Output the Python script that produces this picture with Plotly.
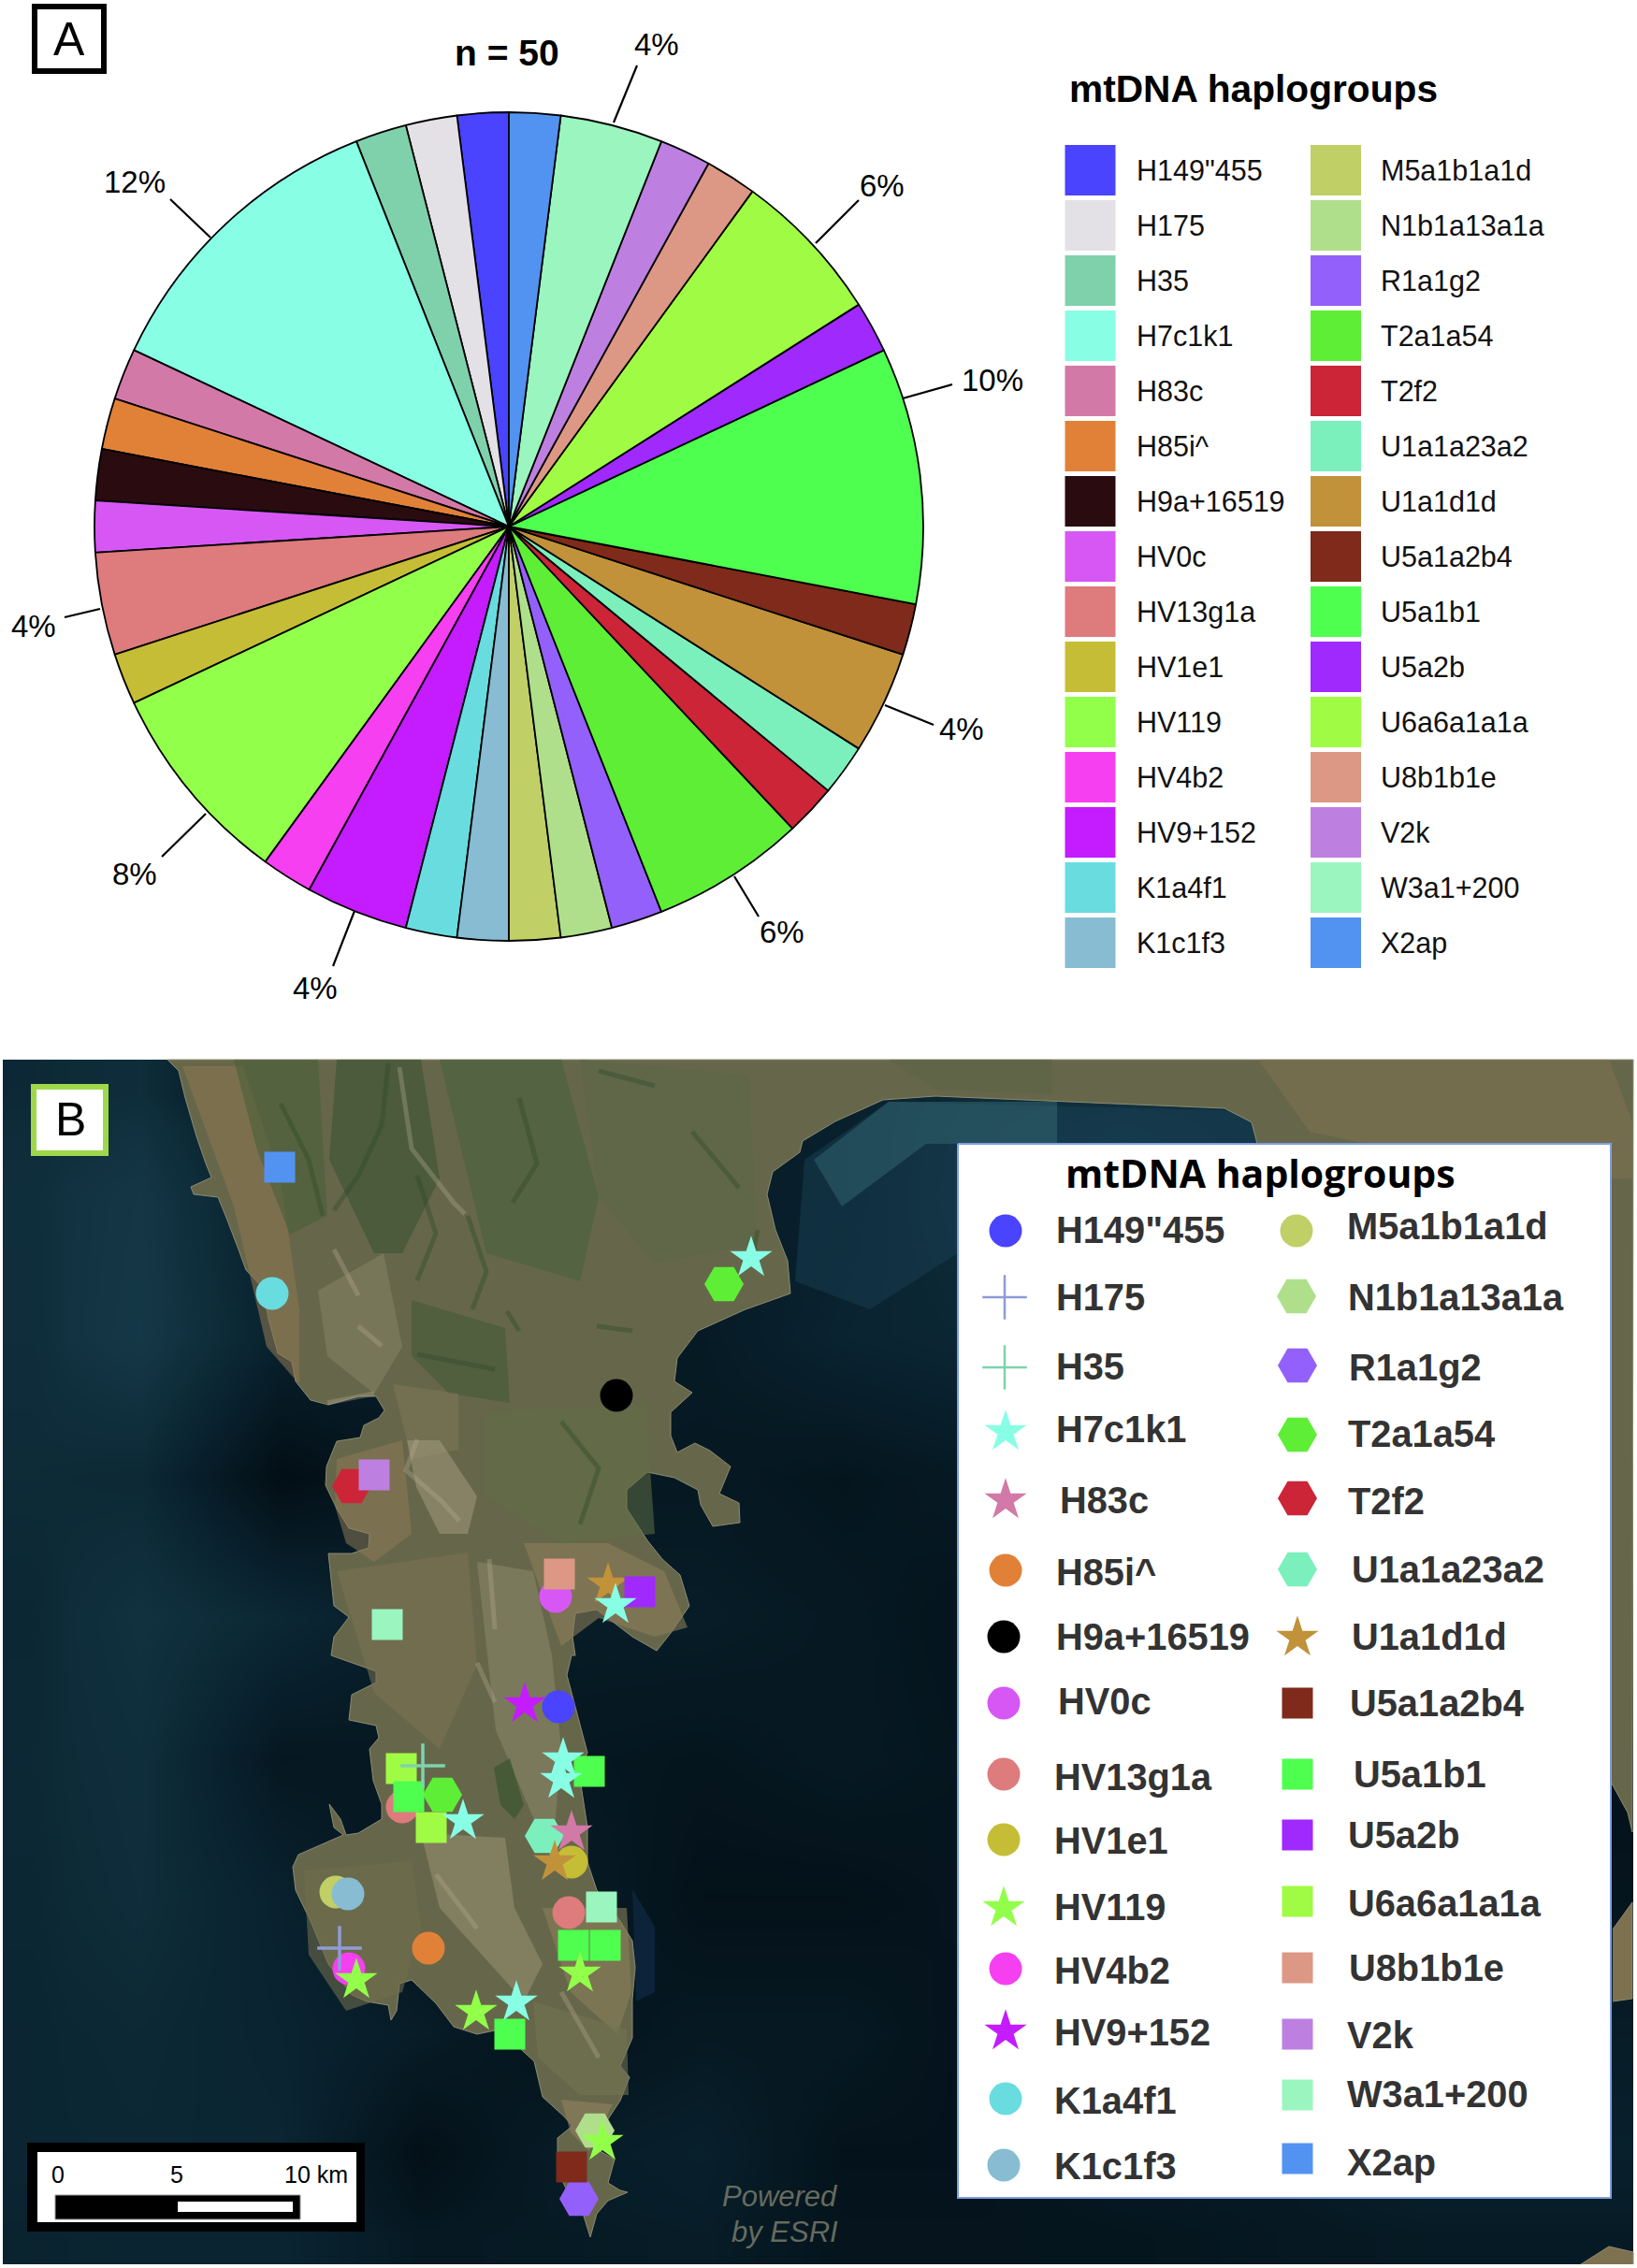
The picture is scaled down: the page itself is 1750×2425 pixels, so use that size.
import plotly.graph_objects as go

W, H = 1750, 2425

# ---------- haplogroup data ----------
haplogroups = ['H149"455', 'H175', 'H35', 'H7c1k1', 'H83c', 'H85i^', 'H9a+16519', 'HV0c', 'HV13g1a', 'HV1e1',
               'HV119', 'HV4b2', 'HV9+152', 'K1a4f1', 'K1c1f3', 'M5a1b1a1d', 'N1b1a13a1a', 'R1a1g2', 'T2a1a54',
               'T2f2', 'U1a1a23a2', 'U1a1d1d', 'U5a1a2b4', 'U5a1b1', 'U5a2b', 'U6a6a1a1a', 'U8b1b1e', 'V2k',
               'W3a1+200', 'X2ap']
percent = [2, 2, 2, 12, 2, 2, 2, 2, 4, 2, 8, 2, 4, 2, 2, 2, 2, 2, 6, 2, 2, 4, 2, 10, 2, 6, 2, 2, 4, 2]
colors = ['#4a43ff', '#e3e1e5', '#7fd1ac', '#88ffe5', '#d379a7', '#e18138', '#2a0b10', '#d757f5', '#dd7b7d', '#c6bd36',
          '#92ff4a', '#f53ff0', '#c41bff', '#69dce0', '#87bcd3', '#c0cf66', '#b0df8c', '#9460fb', '#5eee36',
          '#cb2537', '#7bf0bd', '#c1923a', '#7f2a1a', '#4eff4f', '#a029fd', '#a0fb44', '#dd9785', '#bd80e0',
          '#9bf5bf', '#5293f1']
symbols = ['circle', 'cross-thin', 'cross-thin', 'star', 'star', 'circle', 'circle', 'circle', 'circle', 'circle',
           'star', 'circle', 'star', 'circle', 'circle', 'circle', 'hexagon2', 'hexagon2', 'hexagon2', 'hexagon2',
           'hexagon2', 'star', 'square', 'square', 'square', 'square', 'square', 'square', 'square', 'square']
map_colors = dict(zip(haplogroups, colors))
map_colors['H175'] = '#8f9bd6'
map_colors['H35'] = '#7ed4ac'
map_colors['H9a+16519'] = '#000000'

# pie percentage labels: text, leader start/end, label centre
pie_label_text = ['4%', '6%', '10%', '4%', '6%', '4%', '8%', '4%', '12%']
leader_x0 = [656, 872, 965, 946, 785, 379, 220, 107, 225]
leader_y0 = [131, 260, 426, 754, 937, 974, 870, 651, 254]
leader_x1 = [681, 918, 1018, 998, 811, 356, 173, 69, 182]
leader_y1 = [70, 214, 411, 775, 980, 1033, 916, 660, 213]
label_x = [702, 943, 1061, 1028, 836, 337, 144, 36, 144]
label_y = [47, 198, 406, 779, 996, 1056, 934, 669, 194]

# sites on the map, per haplogroup (map coordinates)
sites = {
    'X2ap': [(299, 1248)], 'K1a4f1': [(291, 1383)],
    'T2a1a54': [(774, 1373), (473, 1919)],
    'H7c1k1': [(803, 1345), (658, 1716), (602, 1881), (600, 1903), (495, 1947), (552, 2141)],
    'H9a+16519': [(659, 1492)], 'T2f2': [(376, 1589)], 'V2k': [(400, 1577)],
    'U8b1b1e': [(598, 1683)], 'HV0c': [(594, 1707)], 'U1a1d1d': [(650, 1694), (593, 1991)],
    'U5a2b': [(684, 1702)], 'W3a1+200': [(414, 1737), (643, 2039)],
    'HV9+152': [(561, 1822)], 'H149"455': [(597, 1825)],
    'U5a1b1': [(630, 1894), (437, 1921), (613, 2080), (647, 2080), (545, 2175)],
    'U6a6a1a1a': [(429, 1891), (461, 1954)], 'H35': [(452, 1888)],
    'HV13g1a': [(430, 1932), (608, 2045)], 'U1a1a23a2': [(582, 1963)], 'H83c': [(611, 1959)],
    'HV1e1': [(611, 1991)], 'M5a1b1a1d': [(359, 2023)], 'K1c1f3': [(372, 2025)],
    'HV119': [(620, 2110), (381, 2117), (509, 2151), (644, 2290)],
    'H175': [(363, 2083)], 'HV4b2': [(373, 2105)], 'H85i^': [(458, 2083)],
    'N1b1a13a1a': [(636, 2278)], 'U5a1a2b4': [(611, 2317)], 'R1a1g2': [(619, 2351)],
}
draw_order = ['X2ap', 'K1a4f1', 'H9a+16519', 'T2a1a54', 'T2f2', 'HV0c', 'H149"455', 'HV13g1a', 'U1a1a23a2',
              'HV1e1', 'M5a1b1a1d', 'K1c1f3', 'HV4b2', 'H85i^', 'N1b1a13a1a', 'R1a1g2', 'U1a1d1d', 'V2k', 'U8b1b1e',
              'U5a2b', 'W3a1+200', 'U6a6a1a1a', 'U5a1b1', 'U5a1a2b4', 'H35', 'H175', 'HV9+152', 'H83c', 'HV119', 'H7c1k1']

# panel B legend rows (marker x, marker y, text x, text y)
legB_mx = [1075, 1074, 1074, 1075, 1075, 1075, 1073, 1073, 1073, 1073, 1073, 1075, 1075, 1075, 1073,
           1386, 1386, 1387, 1387, 1387, 1387, 1387, 1387, 1387, 1387, 1387, 1387, 1387, 1387, 1387]
legB_my = [1316, 1387, 1462, 1531, 1604, 1679, 1750, 1821, 1897, 1967, 2040, 2105, 2172, 2244, 2315,
           1316, 1386, 1460, 1534, 1602, 1678, 1751, 1821, 1897, 1962, 2033, 2104, 2175, 2240, 2308]
legB_tx = [1127, 1127, 1127, 1127, 1131, 1127, 1127, 1129, 1125, 1125, 1125, 1125, 1125, 1125, 1125,
           1438, 1439, 1440, 1439, 1439, 1443, 1443, 1441, 1445, 1439, 1439, 1440, 1438, 1438, 1438]
legB_ty = [1315, 1387, 1461, 1528, 1604, 1681, 1750, 1819, 1900, 1968, 2039, 2107, 2173, 2246, 2316,
           1311, 1387, 1462, 1533, 1605, 1678, 1750, 1821, 1897, 1962, 2035, 2104, 2176, 2239, 2312]

# ---------- background map outlines ----------
coast_x = [179, 191, 198, 210, 220, 226, 204, 207, 233, 242, 255, 263, 281, 287, 297, 312, 316, 332, 351, 383, 402, 411, 405, 389,
           385, 360, 349, 348, 360, 373, 395, 394, 376, 351, 357, 373, 357, 354,
           402, 402, 376, 373, 402, 405, 395, 399, 408, 408, 383, 370, 364, 352, 357, 367, 319, 313, 316, 332, 351, 376, 392, 415, 418, 424,
           427, 440, 466, 485, 510, 529, 548, 571, 580, 603, 612, 596, 596, 606, 622, 631, 638, 650, 671, 663, 650, 657, 638,
           644, 663, 673, 663, 676, 676, 679, 676, 663, 638, 628, 628, 619, 628, 615, 606, 611,
           615, 612, 615, 638, 676, 702, 717, 737, 727, 708, 692, 670, 670, 692, 721, 746, 749, 762, 791, 790, 769, 781, 759, 743, 724, 717, 717, 740, 721,
           724, 746, 797, 845, 842, 829, 820, 826, 855, 858, 893, 944, 1000, 1125, 1309, 1338, 1344, 1500, 1724, 1740, 1745, 1746, 179]
coast_y = [1133, 1145, 1174, 1215, 1244, 1259, 1269, 1277, 1280, 1302, 1336, 1358, 1377, 1410, 1447, 1456, 1477, 1497, 1502, 1493, 1493, 1508, 1516, 1524,
           1537, 1541, 1568, 1588, 1613, 1634, 1640, 1655, 1661, 1661, 1717, 1729, 1750, 1770,
           1787, 1799, 1812, 1839, 1845, 1858, 1870, 1904, 1929, 1945, 1960, 1962, 1945, 1929, 1954, 1962, 1983, 1996, 2021, 2054, 2100, 2133, 2140, 2144, 2160, 2150,
           2121, 2117, 2142, 2167, 2175, 2171, 2183, 2204, 2242, 2263, 2273, 2286, 2321, 2342, 2363, 2392, 2367, 2353, 2344, 2342, 2334, 2309, 2298,
           2275, 2246, 2221, 2209, 2179, 2138, 2104, 2075, 2054, 2021, 1991, 1954, 1895, 1874, 1824, 1791, 1770,
           1770, 1750, 1725, 1721, 1750, 1765, 1746, 1717, 1684, 1667, 1647, 1613, 1593, 1574, 1580, 1593, 1609, 1632, 1628, 1607, 1597, 1568, 1551, 1543, 1553, 1535, 1510, 1489, 1477,
           1452, 1423, 1400, 1383, 1348, 1315, 1277, 1253, 1232, 1220, 1199, 1176, 1172, 1177, 1185, 1200, 1223, 1500, 1909, 1938, 1959, 1133, 1133]
east_piece_x = [1724, 1745, 1745, 1724]
east_piece_y = [2063, 2034, 2137, 2140]
corner_piece_x = [1690, 1720, 1746, 1746]
corner_piece_y = [2421, 2402, 2408, 2421]

# land colour patches: (colour, opacity, xs, ys)
land_patches = [
    ('#8b7552', .60, [195, 260, 300, 320, 320, 285, 250], [1140, 1140, 1260, 1400, 1480, 1440, 1290]),
    ('#3d5532', .65, [360, 450, 470, 430, 400, 352], [1133, 1133, 1260, 1340, 1340, 1240]),
    ('#4a5f38', .60, [250, 340, 350, 310, 275], [1133, 1133, 1300, 1320, 1230]),
    ('#46603a', .55, [470, 600, 640, 620, 520], [1133, 1133, 1280, 1370, 1340]),
    ('#5a6845', .50, [620, 800, 810, 700, 640], [1133, 1150, 1330, 1350, 1280]),
    ('#3f5a34', .55, [440, 540, 545, 480, 440], [1390, 1420, 1500, 1490, 1450]),
    ('#8f8a6a', .45, [340, 410, 430, 400, 350], [1380, 1340, 1440, 1490, 1450]),
    ('#807a58', .50, [420, 490, 490, 440], [1480, 1490, 1550, 1560]),
    ('#8d7a58', .55, [360, 430, 440, 400, 370, 358], [1560, 1540, 1640, 1670, 1650, 1610]),
    ('#a89e82', .50, [435, 470, 510, 500, 470, 445], [1540, 1540, 1600, 1640, 1640, 1590]),
    ('#5f6e45', .55, [520, 690, 700, 600, 520], [1510, 1500, 1640, 1650, 1600]),
    ('#8c7d5a', .60, [560, 650, 710, 735, 700, 640, 600], [1650, 1650, 1680, 1740, 1750, 1730, 1760]),
    ('#9c9678', .40, [510, 570, 590, 600, 590, 530], [1670, 1680, 1770, 1870, 1990, 1850]),
    ('#7a7252', .55, [360, 500, 510, 470, 400], [1680, 1660, 1780, 1870, 1810]),
    ('#39552f', .70, [528, 545, 560, 550, 535], [1890, 1880, 1930, 1945, 1930]),
    ('#a49c7c', .45, [450, 540, 550, 580, 560, 470], [1960, 1965, 2040, 2100, 2140, 2040]),
    ('#6e6d4c', .60, [325, 440, 450, 430, 370, 330], [2000, 1990, 2060, 2130, 2150, 2090]),
    ('#8a7e5a', .60, [580, 670, 675, 660, 610], [2040, 2040, 2130, 2175, 2130]),
    ('#6f7352', .60, [570, 670, 672, 620, 575], [2140, 2170, 2240, 2240, 2200]),
    ('#8f7f5e', .65, [600, 655, 630, 610], [2245, 2250, 2300, 2280]),
    ('#7d7150', .60, [1345, 1640, 1720, 1745, 1745, 1640, 1400], [1133, 1133, 1133, 1200, 1260, 1260, 1210]),
    ('#5d6544', .70, [850, 950, 1000, 1125, 1125, 900, 865], [1133, 1133, 1165, 1170, 1133, 1133, 1133]),
]
# ridge and valley lines across the land
dark_ridges = [
    ([415, 408, 383, 357], [1137, 1203, 1257, 1294]), ([446, 466, 446], [1257, 1319, 1369]),
    ([555, 574, 548], [1174, 1244, 1286]), ([640, 700], [1145, 1161]), ([446, 529], [1448, 1464]),
    ([542, 555], [1402, 1423]), ([638, 676], [1418, 1423]), ([810, 803], [1315, 1352]),
    ([300, 330, 345], [1180, 1240, 1300]), ([500, 520, 505], [1300, 1360, 1400]),
    ([600, 640, 620], [1520, 1570, 1630]), ([740, 790], [1210, 1270]),
]
pale_ridges = [
    ([427, 440, 485, 497], [1141, 1228, 1286, 1298]), ([357, 383], [1336, 1385]), ([383, 408], [1418, 1439]),
    ([446, 434, 472, 491], [1539, 1572, 1605, 1626]), ([523, 529], [1667, 1742]), ([466, 510], [2004, 2062]),
    ([510, 529], [1778, 1820]), ([600, 640], [2130, 2200]), ([350, 400], [1500, 1490]),
]
# tinted shallow water near the coast
shallow_patches = [
    ('#1b4258', .45, [950, 1340, 1344, 1024, 1024, 930, 850, 860], [1178, 1188, 1223, 1223, 1340, 1400, 1370, 1240]),
    ('#3a6f78', .45, [950, 1130, 1130, 990, 900, 870], [1178, 1178, 1223, 1223, 1290, 1240]),
    ('#12304e', .55, [676, 700, 700, 680], [2020, 2060, 2130, 2140]),
]

# coarse sea brightness (x, y are cell edges)
sea_x = [3, 75, 225, 375, 525, 675, 825, 975, 1125, 1275, 1425, 1625, 1746]
sea_y = [1133, 1206, 1355, 1505, 1655, 1805, 1955, 2105, 2240, 2360, 2421]
sea_z = [[.42, .48, .10, .30, .30, .30, .30, .45, .50, .50, .50, .50],
         [.50, .62, .28, .25, .25, .25, .30, .50, .65, .50, .50, .50],
         [.48, .65, .32, .25, .25, .22, .35, .40, .20, .20, .20, .20],
         [.45, .42, .05, .20, .20, .20, .15, .22, .15, .15, .15, .15],
         [.40, .55, .40, .25, .25, .25, .20, .12, .10, .10, .10, .10],
         [.42, .50, .18, .20, .18, .15, .20, .15, .10, .10, .10, .10],
         [.40, .48, .32, .14, .25, .10, .10, .15, .10, .10, .15, .15],
         [.38, .42, .35, .25, .12, .20, .20, .10, .20, .15, .25, .25],
         [.38, .40, .38, .08, .25, .30, .12, .12, .20, .20, .30, .30],
         [.34, .36, .36, .20, .22, .25, .14, .14, .15, .18, .22, .22]]

fig = go.Figure()

# ---------- panel B background ----------
fig.add_trace(go.Heatmap(x=sea_x, y=sea_y, z=sea_z, zsmooth='best', showscale=False, hoverinfo='skip',
                         zmin=0, zmax=1,
                         colorscale=[[0, '#020a10'], [.3, '#08202c'], [.6, '#133544'], [1, '#1f4b5e']]))
for c, op, xs, ys in shallow_patches:
    fig.add_trace(go.Scatter(x=xs, y=ys, mode='lines', fill='toself', fillcolor=c, opacity=op,
                             line=dict(width=0), hoverinfo='skip'))
fig.add_trace(go.Scatter(x=coast_x, y=coast_y, mode='lines', fill='toself', fillcolor='#66674a',
                         line=dict(color='#8d8a72', width=1), hoverinfo='skip'))
for px, py in [(east_piece_x, east_piece_y), (corner_piece_x, corner_piece_y)]:
    fig.add_trace(go.Scatter(x=px, y=py, mode='lines', fill='toself', fillcolor='#7d7150',
                             line=dict(color='#8d8a72', width=1), hoverinfo='skip'))
for c, op, xs, ys in land_patches:
    fig.add_trace(go.Scatter(x=xs, y=ys, mode='lines', fill='toself', fillcolor=c, opacity=op,
                             line=dict(width=0), hoverinfo='skip'))
for xs, ys in dark_ridges:
    fig.add_trace(go.Scatter(x=xs, y=ys, mode='lines', opacity=.4, hoverinfo='skip',
                             line=dict(color='#2f4a2a', width=5)))
for xs, ys in pale_ridges:
    fig.add_trace(go.Scatter(x=xs, y=ys, mode='lines', opacity=.35, hoverinfo='skip',
                             line=dict(color='#b5ab92', width=5)))

def scale_markers(symbol):
    return {'circle': 35, 'square': 33, 'cross-thin': 34, 'star': 34, 'hexagon2': 42}[symbol]

# map sites
for name in draw_order:
    i = haplogroups.index(name)
    xs = [p[0] for p in sites[name]]
    ys = [p[1] for p in sites[name]]
    sym = symbols[i]
    mk = dict(symbol=sym, size=scale_markers(sym), color=map_colors[name], line=dict(width=0))
    if sym == 'cross-thin':
        mk['line'] = dict(width=3.5, color=map_colors[name])
    fig.add_trace(go.Scatter(x=xs, y=ys, mode='markers', marker=mk, name=name, hoverinfo='name'))

# panel B legend panel
fig.add_trace(go.Scatter(x=[1024, 1722, 1722, 1024, 1024], y=[1223, 1223, 2350, 2350, 1223], mode='lines',
                         fill='toself', fillcolor='#ffffff', line=dict(color='#7f9fdc', width=2), hoverinfo='skip'))
for i, name in enumerate(haplogroups):
    sym = symbols[i]
    mk = dict(symbol=sym, size=scale_markers(sym), color=map_colors[name], line=dict(width=0))
    if sym == 'cross-thin':
        mk['line'] = dict(width=2.5, color=map_colors[name])
    fig.add_trace(go.Scatter(x=[legB_mx[i]], y=[legB_my[i]], mode='markers', marker=mk, hoverinfo='skip'))

# ---------- panel A legend swatches ----------
sw_x = [1165.5] * 15 + [1428] * 15
sw_y = [182 + 59 * k for k in range(15)] * 2
fig.add_trace(go.Scatter(x=sw_x, y=sw_y, mode='markers', hoverinfo='skip',
                         marker=dict(symbol='square', size=54, color=colors, line=dict(width=0))))

# leader lines
lx, ly = [], []
for a, b, c, d in zip(leader_x0, leader_y0, leader_x1, leader_y1):
    lx += [a, c, None]
    ly += [b, d, None]
fig.add_trace(go.Scatter(x=lx, y=ly, mode='lines', line=dict(color='black', width=2.2), hoverinfo='skip'))

# ---------- pie ----------
cx, cy, R = 544, 563, 443
fig.add_trace(go.Pie(labels=haplogroups, values=percent, sort=False, direction='counterclockwise', rotation=-7.2,
                     marker=dict(colors=colors, line=dict(color='black', width=1.8)), textinfo='none',
                     hoverinfo='label+percent', showlegend=False,
                     domain=dict(x=[(cx - R) / W, (cx + R) / W], y=[1 - (cy + R) / H, 1 - (cy - R) / H])))

# ---------- text ----------
ann = []
def T(x, y, s, size, color='black', bold=False, anchor='center', family='Liberation Sans', italic=False):
    if bold:
        s = '<b>%s</b>' % s
    if italic:
        s = '<i>%s</i>' % s
    ann.append(dict(x=x, y=y, xref='x', yref='y', text=s, showarrow=False, xanchor=anchor, yanchor='middle',
                    font=dict(family=family, size=size, color=color)))

for s, x, y in zip(pie_label_text, label_x, label_y):
    T(x, y, s, 33)
T(542, 56, 'n = 50', 39, bold=True)
T(74, 42, 'A', 50)
T(75, 1197, 'B', 50)
T(1340, 95, 'mtDNA haplogroups', 40.7, bold=True)
for k, name in enumerate(haplogroups):
    col = k // 15
    T(1213 if col == 0 else 1474, 182 + 59 * (k % 15), name, 30.5, color='#111111', anchor='left')
T(1347, 1254, 'mtDNA haplogroups', 41, bold=True, family='Open Sans')
for i, name in enumerate(haplogroups):
    T(legB_tx[i], legB_ty[i], name, 39.8, color='#333333', bold=True, anchor='left')
T(62, 2325, '0', 25)
T(189, 2325, '5', 25)
T(338, 2325, '10 km', 25)
T(898, 2348, 'Powered', 31, color='rgba(135,135,115,.75)', anchor='right', italic=True)
T(898, 2386, 'by ESRI', 31, color='rgba(135,135,115,.75)', anchor='right', italic=True)

def rect(x0, y0, x1, y1, fill='rgba(0,0,0,0)', line=None, lw=0):
    return dict(type='rect', xref='x', yref='y', x0=x0, y0=y0, x1=x1, y1=y1, fillcolor=fill,
                line=dict(color=line or 'rgba(0,0,0,0)', width=lw), layer='above')

shapes = [
    rect(37, 7, 111, 76, '#ffffff', 'black', 6),
    rect(36, 1162, 113, 1233, '#ffffff', '#9ed84a', 6),
    rect(29, 2291, 390, 2386, 'black'),
    rect(40, 2301, 381, 2376, 'white'),
    rect(59, 2347, 321, 2373, 'black', '#999999', 1),
    rect(190, 2354, 313, 2365, 'white'),
]

fig.update_layout(width=W, height=H, margin=dict(l=0, r=0, t=0, b=0), paper_bgcolor='white', plot_bgcolor='white',
                  showlegend=False, annotations=ann, shapes=shapes,
                  xaxis=dict(range=[0, W], visible=False, domain=[0, 1], fixedrange=True),
                  yaxis=dict(range=[H, 0], visible=False, domain=[0, 1], fixedrange=True))
fig.write_html("out.html", config=dict(displayModeBar=False),
               post_script="document.body.style.margin='0';document.body.style.overflow='hidden';")
